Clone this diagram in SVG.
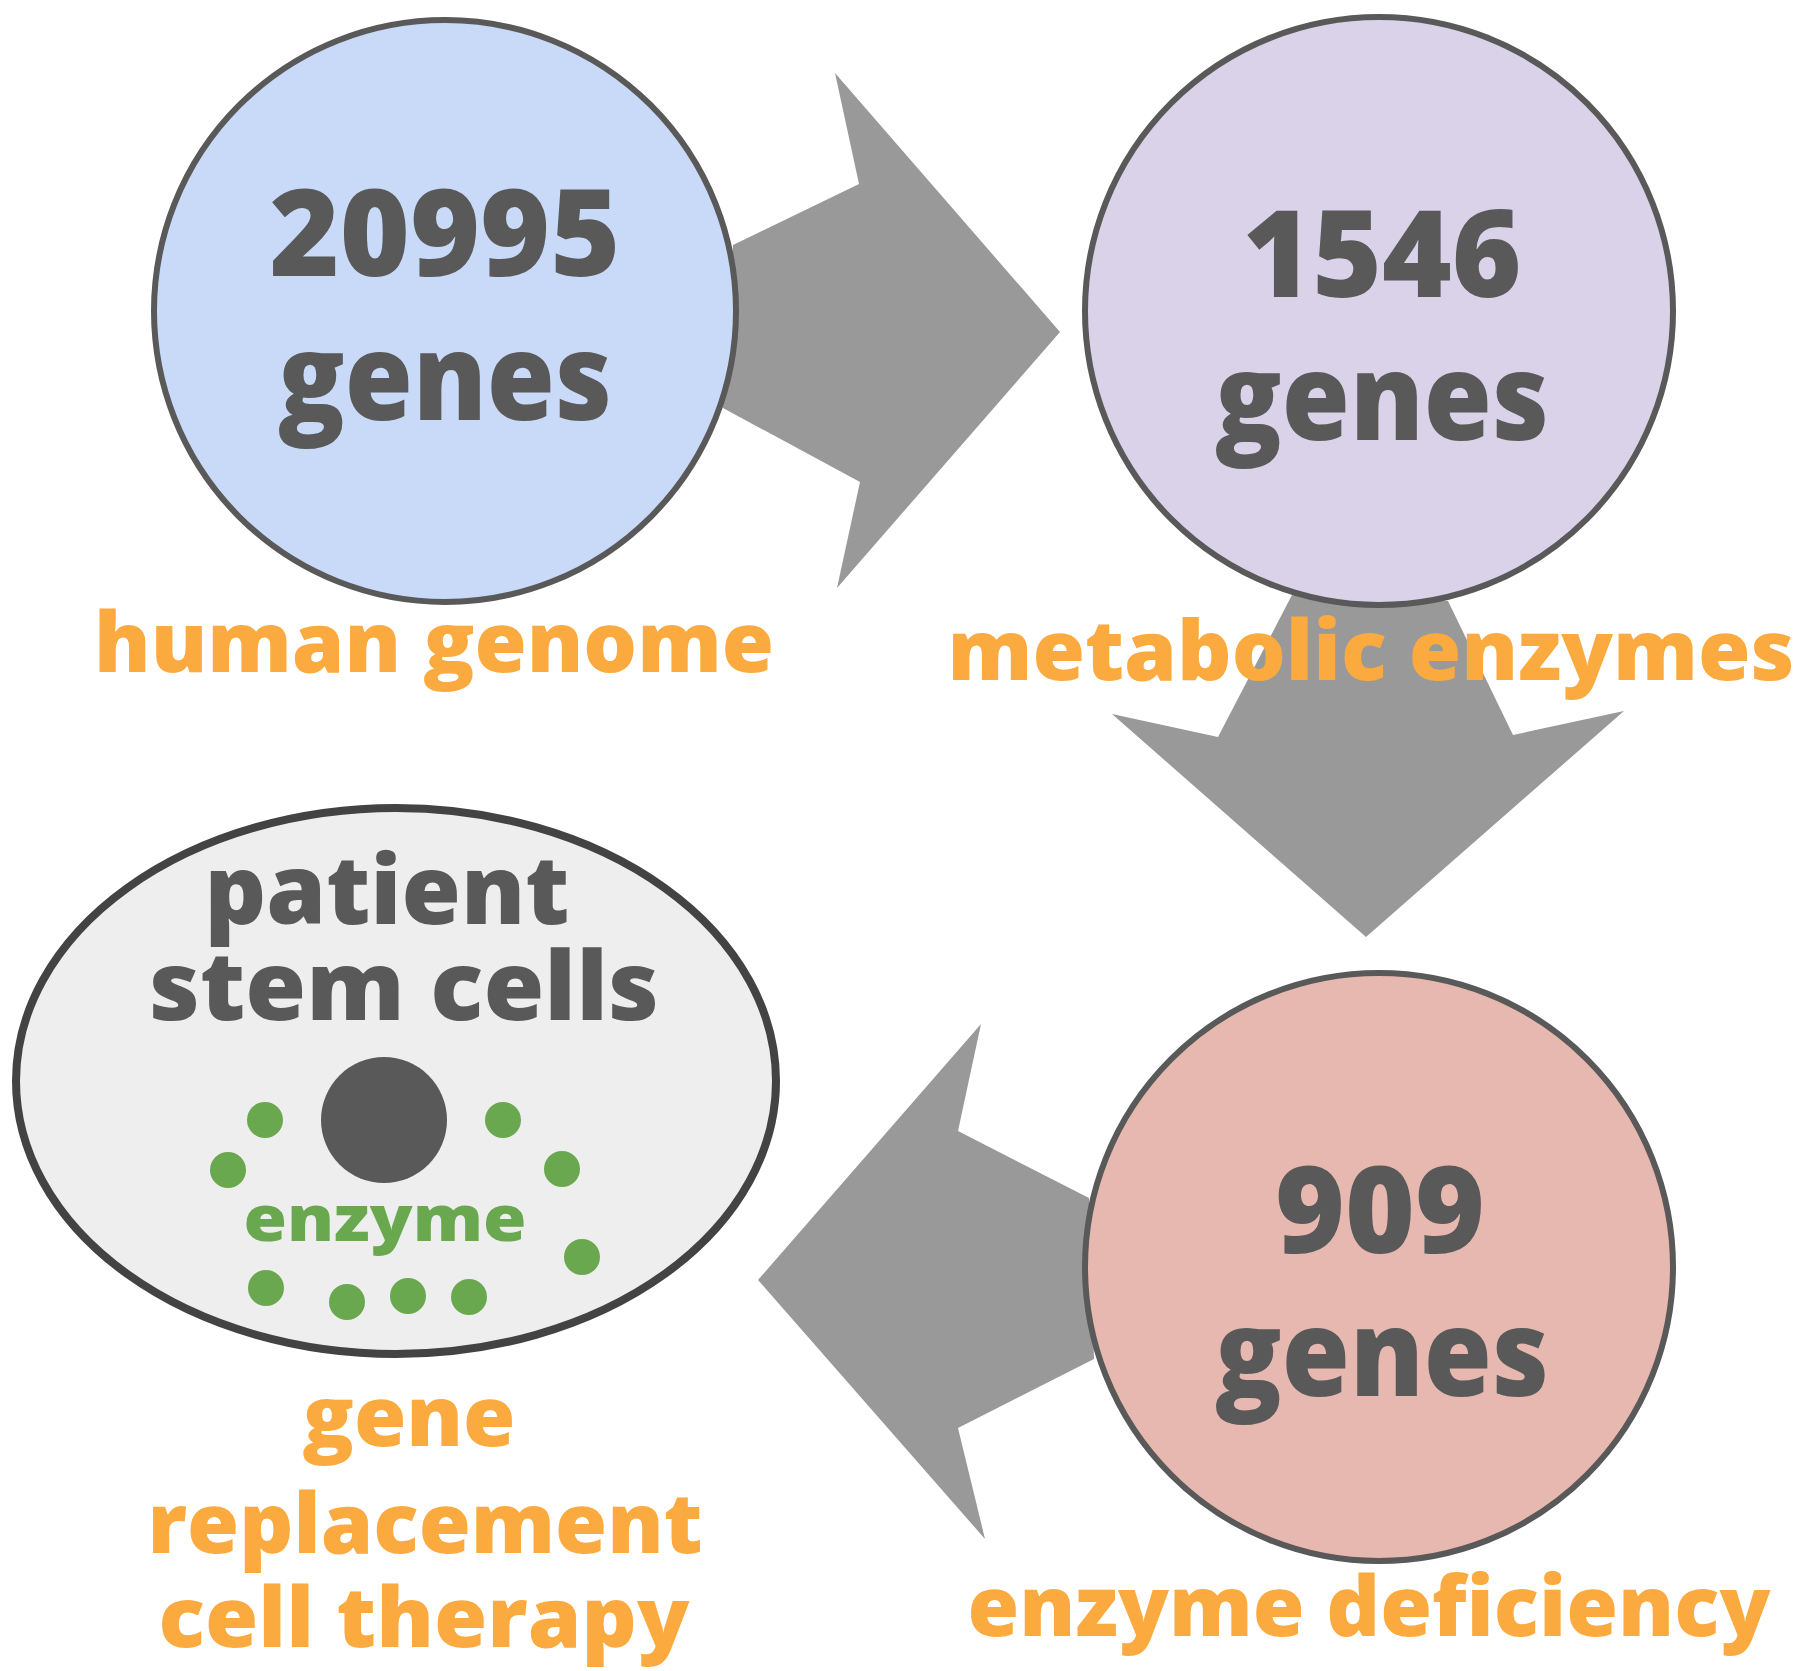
<svg xmlns="http://www.w3.org/2000/svg" width="1797" height="1671" viewBox="0 0 1797 1671">
<style>
.t{font-family:"Open Sans","Noto Sans","DejaVu Sans",sans-serif;font-weight:800;text-anchor:middle}
.d{fill:#595959}
.o{fill:#fbaa3f;font-size:84px}
.c{stroke:#595959;stroke-width:6}
.arrow{fill:#999999}
.dot{fill:#6aa84f}
</style>
<rect width="1797" height="1671" fill="#ffffff"/>
<g id="connectors">
<polygon class="arrow" points="733,245 859,184 835,73 1060,332 837,588 860,482 723,408"/>
<polygon class="arrow" points="1293,593 1218,737 1112,714 1366,937 1624,711 1513,735 1448,601"/>
<polygon class="arrow" points="1089,1198 958,1131 981,1024 758,1280 985,1539 958,1428 1094,1359"/>
</g>
<g id="human-genome">
<circle class="c" cx="445" cy="311" r="291" fill="#c9daf8"/>
<text class="t d" x="445" y="276" font-size="120" textLength="351" lengthAdjust="spacingAndGlyphs">20995</text>
<text class="t d" x="445" y="420" font-size="120" textLength="334" lengthAdjust="spacingAndGlyphs">genes</text>
<text class="t o" x="434" y="672" textLength="680" lengthAdjust="spacingAndGlyphs">human genome</text>
</g>
<g id="metabolic-enzymes">
<circle class="c" cx="1379" cy="311" r="294" fill="#d9d2e9"/>
<text class="t d" x="1382" y="297" font-size="120" textLength="279" lengthAdjust="spacingAndGlyphs">1546</text>
<text class="t d" x="1382" y="440" font-size="120" textLength="334" lengthAdjust="spacingAndGlyphs">genes</text>
<text class="t o" x="1371" y="680" textLength="847" lengthAdjust="spacingAndGlyphs">metabolic enzymes</text>
</g>
<g id="enzyme-deficiency">
<circle class="c" cx="1379" cy="1267" r="294" fill="#e6b8af"/>
<text class="t d" x="1380" y="1253" font-size="120" textLength="210" lengthAdjust="spacingAndGlyphs">909</text>
<text class="t d" x="1382" y="1396" font-size="120" textLength="334" lengthAdjust="spacingAndGlyphs">genes</text>
<text class="t o" x="1369" y="1636" textLength="803" lengthAdjust="spacingAndGlyphs">enzyme deficiency</text>
</g>
<g id="patient-stem-cells">
<ellipse cx="396" cy="1081" rx="380" ry="273" fill="#eeeeee" stroke="#434343" stroke-width="8"/>
<text class="t d" x="387" y="924" font-size="96" textLength="365" lengthAdjust="spacingAndGlyphs">patient</text>
<text class="t d" x="404" y="1020" font-size="96" textLength="510" lengthAdjust="spacingAndGlyphs">stem cells</text>
<circle cx="384" cy="1120" r="63" fill="#595959"/>
<circle class="dot" cx="265" cy="1120" r="18"/>
<circle class="dot" cx="228" cy="1170" r="18"/>
<circle class="dot" cx="503" cy="1120" r="18"/>
<circle class="dot" cx="562" cy="1169" r="18"/>
<circle class="dot" cx="582" cy="1257" r="18"/>
<circle class="dot" cx="266" cy="1288" r="18"/>
<circle class="dot" cx="347" cy="1302" r="18"/>
<circle class="dot" cx="408" cy="1296" r="18"/>
<circle class="dot" cx="469" cy="1297" r="18"/>
<text class="t" x="385" y="1241" font-size="64" fill="#6aa84f" textLength="283" lengthAdjust="spacingAndGlyphs">enzyme</text>
<text class="t o" x="409" y="1446" textLength="213" lengthAdjust="spacingAndGlyphs">gene</text>
<text class="t o" x="425" y="1553" textLength="555" lengthAdjust="spacingAndGlyphs">replacement</text>
<text class="t o" x="424" y="1647" textLength="531" lengthAdjust="spacingAndGlyphs">cell therapy</text>
</g>
</svg>
